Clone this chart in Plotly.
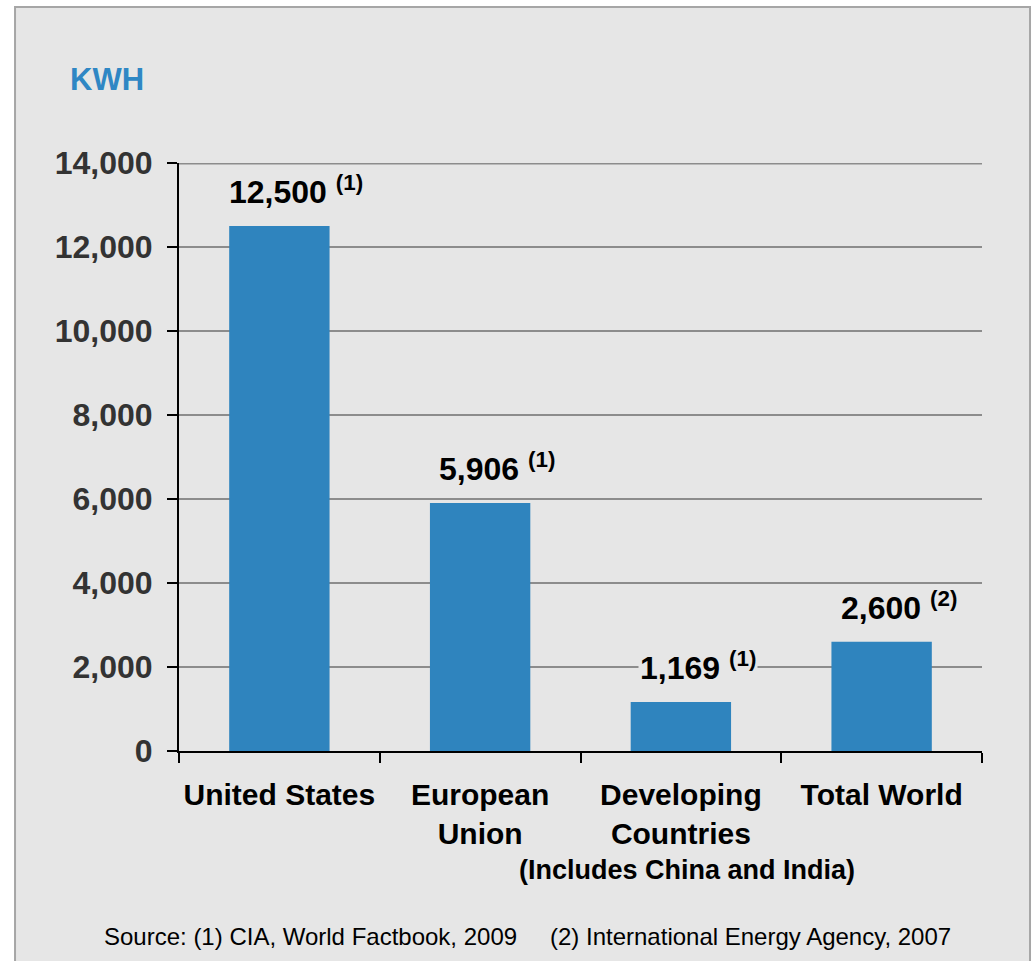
import plotly.graph_objects as go

# Electricity consumption per capita (kWh)
categories = ["United States", "European<br>Union", "Developing<br>Countries", "Total World"]
values = [12500, 5906, 1169, 2600]
value_labels = ["12,500", "5,906", "1,169", "2,600"]
source_refs = ["(1)", "(1)", "(1)", "(2)"]
y_ticks = [0, 2000, 4000, 6000, 8000, 10000, 12000, 14000]
y_tick_labels = ["0", "2,000", "4,000", "6,000", "8,000", "10,000", "12,000", "14,000"]

BG = "#e6e6e6"
BAR = "#2f84be"
GRID = "#8c8c8c"
FONT = "Liberation Sans, Arial, sans-serif"

fig = go.Figure(
    go.Bar(
        x=categories,
        y=values,
        width=0.5,
        marker=dict(color=BAR, line=dict(width=0)),
        hoverinfo="skip",
    )
)

# Grey panel with border
fig.add_shape(
    type="rect", xref="paper", yref="paper",
    x0=-0.2042, x1=1.0598, y0=-0.37, y1=1.2653,
    fillcolor=BG, line=dict(color="#a6a6a6", width=2), layer="below",
)

# Top gridline at the end of the value range (half of it is clipped by the plot area)
fig.add_shape(
    type="line", xref="paper", yref="y",
    x0=0, x1=1, y0=y_ticks[-1], y1=y_ticks[-1],
    line=dict(color=GRID, width=3), layer="below",
)

# Value labels above the bars, with the source reference as a superscript
for cat, val, lab, ref in zip(categories, values, value_labels, source_refs):
    fig.add_annotation(
        x=cat, y=val, xref="x", yref="y",
        text=f"<b>{lab}</b> <sup><b>{ref}</b></sup>",
        showarrow=False,
        xanchor="center", yanchor="middle",
        xshift=17, yshift=36,
        font=dict(family=FONT, size=32, color="#000000"),
        bgcolor=BG, borderpad=1,
    )

# Unit label
fig.add_annotation(
    x=-0.1382, y=1.1412, xref="paper", yref="paper",
    text="<b>KWH</b>", showarrow=False, xanchor="left", yanchor="middle",
    font=dict(family=FONT, size=31, color="#2f87c4"),
)

# Note under the developing-countries category
fig.add_annotation(
    x=0.6326, y=-0.2024, xref="paper", yref="paper",
    text="<b>(Includes China and India)</b>", showarrow=False,
    xanchor="center", yanchor="middle",
    font=dict(family=FONT, size=27, color="#000000"),
)

# Sources
fig.add_annotation(
    x=-0.0959, y=-0.3163, xref="paper", yref="paper",
    text="Source: (1) CIA, World Factbook, 2009", showarrow=False,
    xanchor="left", yanchor="middle",
    font=dict(family=FONT, size=24, color="#000000"),
)
fig.add_annotation(
    x=0.4595, y=-0.3163, xref="paper", yref="paper",
    text="(2) International Energy Agency, 2007", showarrow=False,
    xanchor="left", yanchor="middle",
    font=dict(family=FONT, size=24, color="#000000"),
)

fig.update_layout(
    width=1036, height=961,
    margin=dict(l=179, r=54, t=163, b=210),
    paper_bgcolor="#ffffff",
    plot_bgcolor="rgba(0,0,0,0)",
    showlegend=False,
    bargap=0.5,
    font=dict(family=FONT),
)

fig.update_xaxes(
    showline=True, linecolor="#000000", linewidth=2,
    ticks="outside", ticklen=10, tickwidth=2, tickcolor="#000000",
    tickson="boundaries",
    showgrid=False,
    tickangle=0,
    automargin=False,
    tickfont=dict(family=FONT, size=30, color="#000000"),
    tickprefix="<b>", ticksuffix="</b>",
    ticklabelstandoff=16,
)

fig.update_yaxes(
    range=[0, 14000],
    tickvals=y_ticks, ticktext=[f"<b>{t}</b>" for t in y_tick_labels],
    showline=True, linecolor="#000000", linewidth=2,
    ticks="outside", ticklen=10, tickwidth=2, tickcolor="#000000",
    showgrid=True, gridcolor=GRID, gridwidth=1.5,
    zeroline=False,
    automargin=False,
    tickfont=dict(family=FONT, size=32, color="#333333"),
    ticklabelstandoff=8,
)

fig.write_html("out.html")
